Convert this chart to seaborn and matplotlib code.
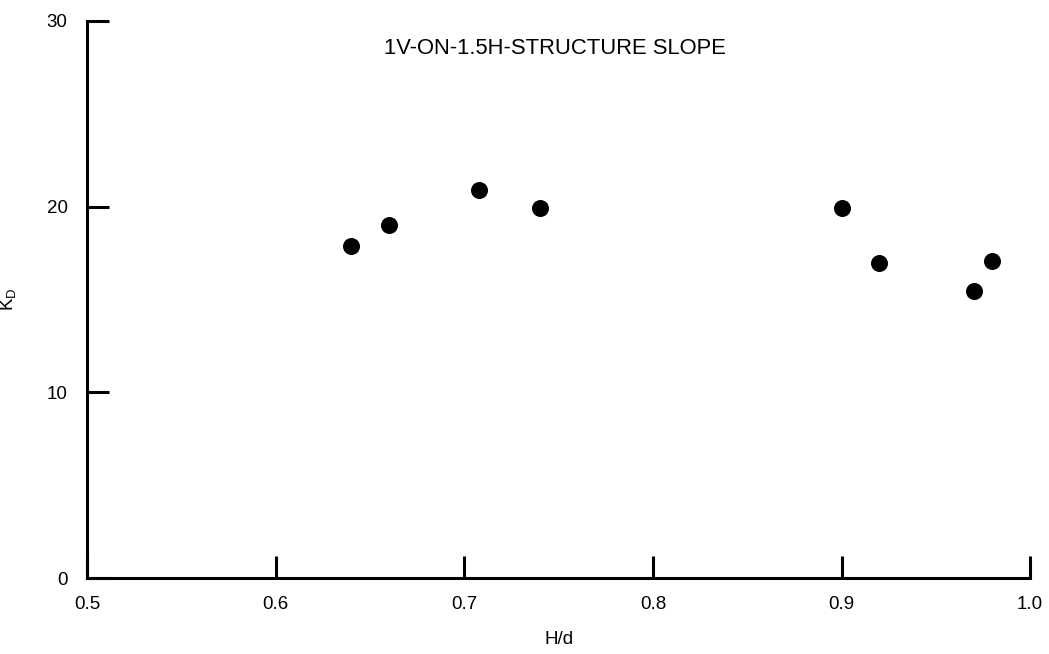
import pandas as pd
import matplotlib
matplotlib.use('Agg')
import matplotlib.pyplot as plt
import seaborn as sns

# dados
h_d = [0.64, 0.66, 0.708, 0.74, 0.90, 0.92, 0.97, 0.98]
kd = [17.9, 19.0, 20.9, 19.95, 19.95, 16.95, 15.45, 17.05]
xticks = [0.5, 0.6, 0.7, 0.8, 0.9, 1.0]
xticklabels = ['0.5', '0.6', '0.7', '0.8', '0.9', '1.0']
yticks = [0, 10, 20, 30]

df = pd.DataFrame({'H/d': h_d, 'KD': kd})

sns.set_style('white')
plt.rcParams['font.family'] = ['Liberation Sans', 'DejaVu Sans']
plt.rcParams['text.color'] = 'black'
plt.rcParams['axes.labelcolor'] = 'black'

fig = plt.figure(figsize=(10.49, 6.54), dpi=100)
ax = fig.add_axes([0.083, 0.116, 0.899, 0.852])

sns.scatterplot(x='H/d', y='KD', data=df, ax=ax, color='black',
                s=150, edgecolor='black', linewidth=0)

ax.set_xlim(0.5, 1.0)
ax.set_ylim(0, 30)
ax.set_xticks(xticks)
ax.set_xticklabels(xticklabels)
ax.set_yticks(yticks)

for side in ['top', 'right']:
    ax.spines[side].set_visible(False)
for side in ['left', 'bottom']:
    ax.spines[side].set_linewidth(2.2)
    ax.spines[side].set_color('black')

ax.tick_params(axis='both', direction='in', length=16, width=2.2,
               colors='black', labelsize=13.5, bottom=True, left=True)
ax.tick_params(axis='x', pad=13)
ax.tick_params(axis='y', pad=14)

ax.set_xlabel('H/d', fontsize=13.5, labelpad=13, color='black')
ax.set_ylabel('K$_\\mathregular{D}$', fontsize=13.5, labelpad=20, color='black')

ax.text(0.315, 0.95, '1V-ON-1.5H-STRUCTURE SLOPE', transform=ax.transAxes,
        fontsize=15.8, ha='left', va='center', color='black')

plt.savefig('out.png', dpi=100)
